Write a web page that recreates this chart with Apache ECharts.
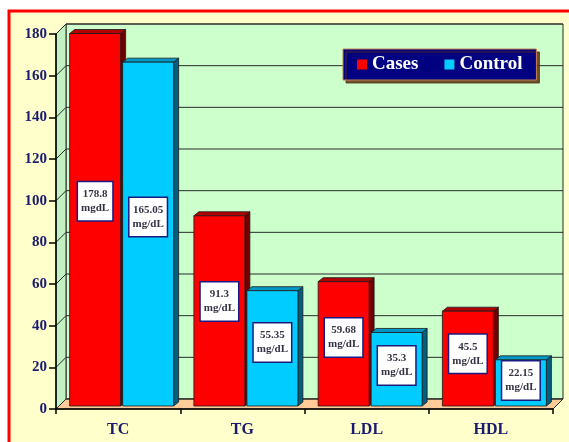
<!DOCTYPE html>
<html>
<head>
<meta charset="utf-8">
<script src="https://cdn.jsdelivr.net/npm/echarts@6/dist/echarts.min.js"></script>
<style>
  html, body { margin: 0; padding: 0; background: #ffffff; }
  #chart { width: 569px; height: 442px; }
</style>
</head>
<body>
<div id="chart"></div>
<script>
// Lipid profile: mean values for cases and controls
const categories = ['TC', 'TG', 'LDL', 'HDL'];
const casesValues = [178.8, 91.3, 59.68, 45.5];
const controlValues = [165.05, 55.35, 35.3, 22.15];
const casesUnits = ['mgdL', 'mg/dL', 'mg/dL', 'mg/dL'];
const controlUnits = ['mg/dL', 'mg/dL', 'mg/dL', 'mg/dL'];
const valueTicks = [0, 20, 40, 60, 80, 100, 120, 140, 160, 180];

// pseudo-3D geometry (pixels)
const WALL_DEPTH = [10, -10];
const BAR_SHIFT = [3.5, -3];
const BAR_DEPTH = [5, -4];
const BAR_W = 51;
const BAR_GAP = 2;

const SERIF = 'Liberation Serif, Times New Roman, serif';
const NAVY = '#1a1a70';

const faces = [
  { front: '#FF0000', top: '#B00000', side: '#700000' },
  { front: '#00CCFF', top: '#0098C8', side: '#005f80' }
];

function barRenderer(seriesIdx, units) {
  const c = faces[seriesIdx];
  return function (params, api) {
    const i = api.value(0);
    const v = api.value(1);
    const base = api.coord([i, 0]);
    const tip = api.coord([i, v]);
    const total = BAR_W * 2 + BAR_GAP;
    const x0 = base[0] - total / 2 + seriesIdx * (BAR_W + BAR_GAP) + BAR_SHIFT[0];
    const x1 = x0 + BAR_W;
    const yb = base[1] + BAR_SHIFT[1];
    const yt = tip[1] + BAR_SHIFT[1];
    const dx = BAR_DEPTH[0], dy = BAR_DEPTH[1];
    const labelY = api.coord([i, v * 0.55])[1] + BAR_SHIFT[1];
    const edge = { stroke: '#1a1a1a', lineWidth: 0.8 };
    return {
      type: 'group',
      children: [
        { type: 'polygon', shape: { points: [[x1, yt], [x1 + dx, yt + dy], [x1 + dx, yb + dy], [x1, yb]] },
          style: Object.assign({ fill: c.side }, edge) },
        { type: 'polygon', shape: { points: [[x0, yt], [x1, yt], [x1 + dx, yt + dy], [x0 + dx, yt + dy]] },
          style: Object.assign({ fill: c.top }, edge) },
        { type: 'rect', shape: { x: x0, y: yt, width: BAR_W, height: yb - yt },
          style: Object.assign({ fill: c.front }, edge) },
        { type: 'text', x: (x0 + x1) / 2, y: labelY, z2: 10,
          style: {
            text: String(v) + '\n' + units[i],
            align: 'center', verticalAlign: 'middle',
            fontFamily: SERIF, fontWeight: 'bold', fontSize: 11, lineHeight: 14,
            fill: '#333344', backgroundColor: '#ffffff',
            borderColor: '#1a1a80', borderWidth: 1.5, padding: [5, 3]
          } }
      ]
    };
  };
}

// back wall, side wall, floor and gridlines
function frameRenderer(params, api) {
  const cs = params.coordSys;
  const L = cs.x, T = cs.y, R = cs.x + cs.width, B = cs.y + cs.height;
  const dx = WALL_DEPTH[0], dy = WALL_DEPTH[1];
  const line = { stroke: '#2a2a2a', lineWidth: 1 };
  const children = [
    { type: 'rect', shape: { x: L + dx, y: T + dy, width: cs.width, height: cs.height },
      style: Object.assign({ fill: '#CCFFCC' }, line) },
    { type: 'polygon', shape: { points: [[L, T], [L + dx, T + dy], [L + dx, B + dy], [L, B]] },
      style: Object.assign({ fill: '#C2F2C2' }, line) },
    { type: 'polygon', shape: { points: [[L, B], [R, B], [R + dx, B + dy], [L + dx, B + dy]] },
      style: Object.assign({ fill: '#FFCC99' }, line) }
  ];
  valueTicks.forEach(function (t) {
    const y = api.coord([0, t])[1];
    children.push({ type: 'line', shape: { x1: L + dx, y1: y + dy, x2: R + dx, y2: y + dy }, style: line });
    children.push({ type: 'line', shape: { x1: L, y1: y, x2: L + dx, y2: y + dy }, style: line });
  });
  return { type: 'group', children: children };
}

const chart = echarts.init(document.getElementById('chart'));
chart.setOption({
  backgroundColor: '#ffffff',
  animation: false,
  graphic: [{
    type: 'rect', x: 9, y: 11, z: -10,
    shape: { x: 0, y: 0, width: 620, height: 500 },
    style: { fill: '#FFFFCC', stroke: '#FF0000', lineWidth: 3 }
  }],
  grid: { left: 56, right: 16, top: 34, bottom: 33 },
  legend: {
    data: ['Cases', 'Control'],
    left: 343, top: 49,
    padding: [6, 14, 6, 14],
    icon: 'rect', itemWidth: 10, itemHeight: 10, itemGap: 26,
    backgroundColor: '#000080', borderColor: '#C88050', borderWidth: 1,
    shadowColor: 'rgba(90,50,20,0.85)', shadowOffsetX: 3, shadowOffsetY: 3, shadowBlur: 0,
    textStyle: { color: '#ffffff', fontFamily: SERIF, fontWeight: 'bold', fontSize: 19 }
  },
  xAxis: {
    type: 'category', data: categories, z: 5,
    axisLine: { show: true, lineStyle: { color: '#000', width: 1.5 } },
    axisTick: { show: true, length: 5, lineStyle: { color: '#000', width: 1.5 } },
    axisLabel: { margin: 13, fontFamily: SERIF, fontWeight: 'bold', fontSize: 16, color: NAVY },
    splitLine: { show: false }
  },
  yAxis: {
    type: 'value', min: 0, max: 180, interval: 20, z: 5,
    axisLine: { show: true, lineStyle: { color: '#000', width: 1.5 } },
    axisTick: { show: true, length: 7, lineStyle: { color: '#000', width: 1.5 } },
    axisLabel: { margin: 9, fontFamily: SERIF, fontWeight: 'bold', fontSize: 15, color: NAVY },
    splitLine: { show: false }
  },
  series: [
    { type: 'custom', name: 'frame', z: 1, silent: true,
      data: [[0, 0]], encode: { x: 0, y: 1 }, renderItem: frameRenderer },
    { type: 'custom', name: 'Cases', z: 3,
      itemStyle: { color: faces[0].front },
      data: casesValues.map(function (v, i) { return [i, v]; }),
      encode: { x: 0, y: 1 }, renderItem: barRenderer(0, casesUnits) },
    { type: 'custom', name: 'Control', z: 3,
      itemStyle: { color: faces[1].front },
      data: controlValues.map(function (v, i) { return [i, v]; }),
      encode: { x: 0, y: 1 }, renderItem: barRenderer(1, controlUnits) }
  ]
});
</script>
</body>
</html>
